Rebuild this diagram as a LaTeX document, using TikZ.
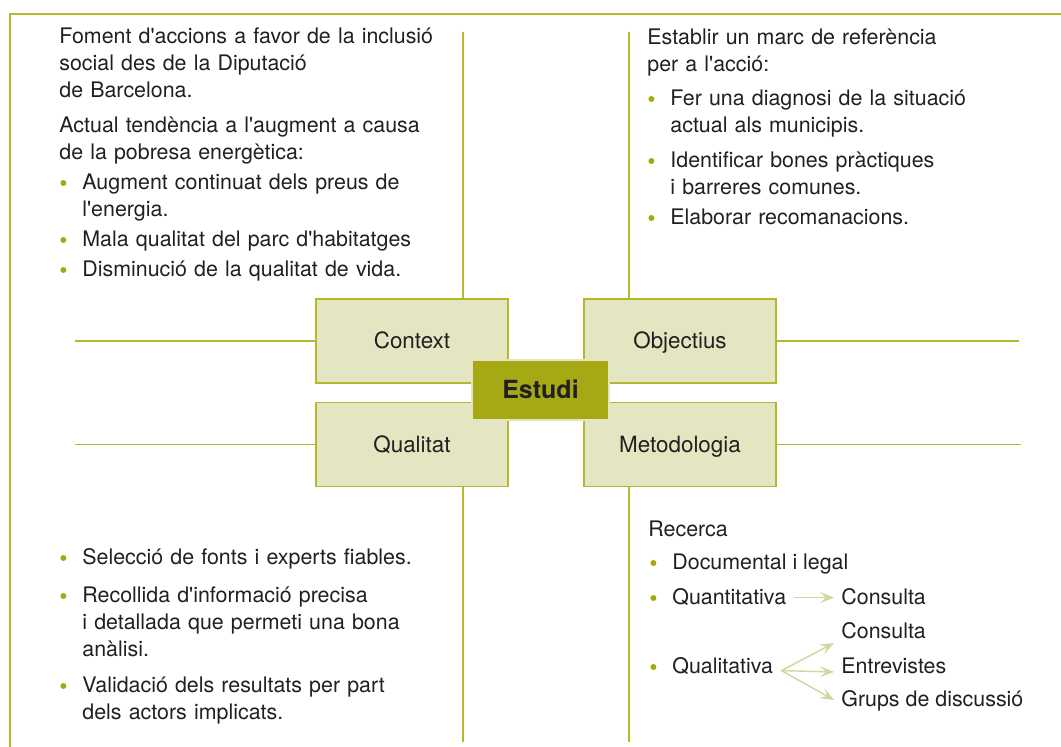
\documentclass[tikz,border=0pt]{standalone}
\usepackage{fontspec}
\setmainfont{TeX Gyre Heros}
\definecolor{EstudiOlive}{HTML}{A4A914}
\definecolor{LineOlive}{HTML}{B5B82E}
\definecolor{BoxCream}{HTML}{E4E5C1}
\definecolor{ArrowPale}{HTML}{D3D59C}
\definecolor{TextGrey}{HTML}{231F20}
\usepackage{tikz}
\usetikzlibrary{arrows.meta, positioning, calc}

\newcommand{\apos}{\textquotesingle}
\newcommand{\blt}{\makebox[11.5pt][l]{\hspace{0.5pt}\tikz[baseline=0pt]\fill[EstudiOlive] (1.5pt,3.5pt) circle[radius=1.5pt];}}
\newcommand{\bitem}[1][1.5pt]{\par\addvspace{#1}\leftskip=11.5pt\noindent\hspace*{-11.5pt}\blt\ignorespaces}

\begin{document}
\begin{tikzpicture}[x=0.5pt, y=-0.5pt, font=\fontsize{10.7}{13.5}\selectfont, text=TextGrey,
    topic/.style={draw=LineOlive, line width=0.8pt, fill=BoxCream, minimum width=96pt,
                  minimum height=42pt, inner sep=0pt, text height=8pt, text depth=0pt,
                  font=\fontsize{11.2}{13.5}\selectfont},
    notes/.style={anchor=base west, inner sep=0pt, align=left, text width=#1},
    line/.style={anchor=base west, inner sep=0pt},
    rule/.style={draw=LineOlive, line width=0.8pt},
    fan/.style={draw=ArrowPale, line width=0.7pt, -{Stealth[length=7pt, width=5.5pt, inset=3pt]}}]
  \useasboundingbox (0,0) rectangle (1061,747);
  \draw[rule] (10,747) -- (10,14) -- (1061,14);

  \coordinate (ltop) at (463,32);
  \coordinate (lbot) at (463,742);
  \coordinate (rtop) at (629,32);
  \coordinate (rbot) at (629,742);
  \coordinate (lup) at (75,341);
  \coordinate (ldown) at (75,444.5);
  \coordinate (rup) at (1019,341);
  \coordinate (rdown) at (1021,444.5);

  \node[topic] (ctx) at (412,341) {Context};
  \node[topic] (obj) at (680,341) {Objectius};
  \node[topic] (qlt) at (412,444.5) {Qualitat};
  \node[topic] (met) at (680,444.5) {Metodologia};
  \node[draw=BoxCream, line width=0.8pt, fill=EstudiOlive, minimum width=68.5pt, minimum height=30pt,
        inner sep=0pt, text height=9pt, text depth=0pt,
        font=\fontsize{12.5}{14}\selectfont\bfseries] (est) at (540.5,390) {Estudi};

  \draw[rule] (ltop) -- (ltop |- ctx.north);
  \draw[rule] (qlt.south -| lbot) -- (lbot);
  \draw[rule] (rtop) -- (rtop |- obj.north);
  \draw[rule] (met.south -| rbot) -- (rbot);
  \draw[rule] (lup) -- (ctx.west);
  \draw[rule] (ldown) -- (qlt.west);
  \draw[rule] (obj.east) -- (rup);
  \draw[rule] (met.east) -- (rdown);

  \node[notes=215pt] (ctxnotes) at (59,44) {Foment d\apos accions a favor de la inclusió\\
    social des de la Diputació\\ de Barcelona.\par\addvspace{4pt}
    Actual tendència a l\apos augment a causa\\ de la pobresa energètica:
    \bitem Augment continuat dels preus de\\ l\apos energia.
    \bitem Mala qualitat del parc d\apos habitatges
    \bitem Disminució de la qualitat de vida.\par};
  \node[notes=200pt] (objnotes) at (647,45) {Establir un marc de referència\\ per a l\apos acció:
    \bitem[3.5pt] Fer una diagnosi de la situació\\ actual als municipis.
    \bitem[4pt] Identificar bones pràctiques\\ i barreres comunes.
    \bitem[1.5pt] Elaborar recomanacions.\par};
  \node[notes=210pt] (qltnotes) at (59,535) {\bitem Selecció de fonts i experts fiables.
    \bitem[5.5pt] Recollida d\apos informació precisa\\ i detallada que permeti una bona\\ anàlisi.
    \bitem[4.5pt] Validació dels resultats per part\\ dels actors implicats.\par};

  \node[line] (rec) at (648,537) {Recerca};
  \node[line] (doc) at (649,570) {\blt Documental i legal};
  \node[line] (quant) at (649,605) {\blt Quantitativa};
  \node[line] (cons1) at (841,605) {Consulta};
  \node[line] (cons2) at (841,639) {Consulta};
  \node[line] (qual) at (649,674) {\blt Qualitativa};
  \node[line] (entr) at (841,674) {Entrevistes};
  \node[line] (grups) at (841,707) {Grups de discussió};

  \draw[fan] ($(quant.east)+(7,0)$) -- ($(cons1.west |- quant.east)+(-7,0)$);
  \coordinate (split) at ($(qual.east)+(8,4)$);
  \draw[fan] (split) -- ($(cons2.base west)+(-7,4)$);
  \draw[fan] (split) -- ($(entr.base west)+(-7,-2)$);
  \draw[fan] (split) -- ($(grups.base west)+(-7,-7)$);
\end{tikzpicture}
\end{document}
